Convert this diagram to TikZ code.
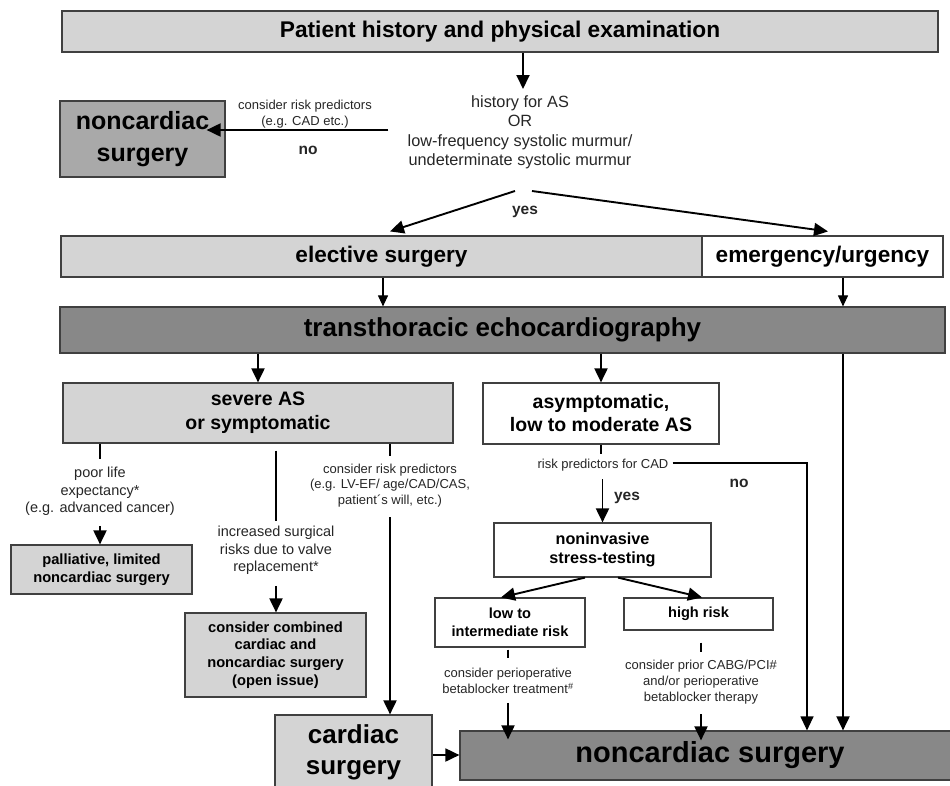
\documentclass[tikz,border=0pt]{standalone}
\usepackage{fontspec}
\setmainfont{Liberation Sans}
\usetikzlibrary{arrows.meta}

\definecolor{boxlight}{HTML}{D4D4D4}
\definecolor{boxmid}{HTML}{A9A9A9}
\definecolor{boxdark}{HTML}{888888}

\newcommand{\fs}[2]{\fontsize{#1}{#2}\selectfont}

\begin{document}
\begin{tikzpicture}[x=1pt,y=-1pt,
    box/.style={draw=black!75,line width=1.2pt,inner sep=0pt,align=center},
    arr/.style={line width=1.9pt,-{Triangle[length=14pt,width=13pt]}},
    tarr/.style={line width=1.1pt,-{Triangle[length=11pt,width=10pt]}},
    tick/.style={line width=1.9pt},
    lbl/.style={align=center,inner sep=0pt,text=black!85}]
        \useasboundingbox (0,0) rectangle (950,785);

        % Top part
        \node[box,fill=boxlight,minimum width=876pt,minimum height=41pt,font=\fs{22.7}{26}\bfseries] (hist) at (500,31.5) {Patient history and physical examination};
        \node[lbl,font=\fs{16.3}{19.5}] (q) at (520,132.5) {history for AS\\OR\\low-frequency systolic murmur/\\undeterminate systolic murmur};
        \node[box,fill=boxmid,minimum width=165pt,minimum height=76pt,font=\fs{25}{32}\bfseries] (nctop) at (142.5,139) {noncardiac\\surgery};
        \draw[arr] (hist.south -| 523,0) -- (523,89);
        \draw[arr] ([xshift=-19pt,yshift=2.5pt]q.west) -- ([xshift=-19pt,yshift=2.5pt]q.west -| nctop.east);
        \node[lbl,font=\fs{13}{16}] (lnorisk) at (305,114) {consider risk predictors\\(e.g. CAD etc.)};
        \node[lbl,font=\fs{15.5}{18}\bfseries] (lno) at (308,150) {no};

        % Elective / emergency
        \node[box,fill=boxlight,minimum width=641pt,minimum height=41pt,font=\fs{22.6}{26}\bfseries] (elec) at (381.5,256.5) {elective surgery};
        \node[box,fill=white,minimum width=241pt,minimum height=41pt,font=\fs{22.6}{26}\bfseries] (emerg) at (822.5,256.5) {emergency/urgency};
        \coordinate (fork) at (523,191);
        \draw[arr] ([xshift=-8pt]fork) -- ([xshift=8.5pt,yshift=4pt]elec.north);
        \draw[arr] ([xshift=9pt]fork) -- ([xshift=5.5pt,yshift=4pt]emerg.north);
        \node[lbl,font=\fs{15.5}{18}\bfseries] (lyes) at (525,212) {yes};

        % Echocardiography
        \node[box,fill=boxdark,minimum width=885pt,minimum height=46pt,font=\fs{26}{30}\bfseries] (tte) at (502.5,330) {transthoracic echocardiography};
        \draw[tarr] ([xshift=1.5pt]elec.south) -- ([xshift=1.5pt]elec.south |- tte.north);
        \draw[tarr] ([xshift=20.5pt]emerg.south) -- ([xshift=20.5pt]emerg.south |- tte.north);

        \node[box,fill=boxlight,minimum width=390pt,minimum height=60pt,font=\fs{19.5}{24}\bfseries] (severe) at (258,413) {severe AS\\or symptomatic};
        \node[box,fill=white,minimum width=236pt,minimum height=61pt,font=\fs{19.5}{23}\bfseries] (asym) at (601,413.5) {asymptomatic,\\low to moderate AS};
        \draw[arr] (severe.north |- tte.south) -- (severe.north);
        \draw[arr] (asym.north |- tte.south) -- (asym.north);

        % Bottom
        \node[box,fill=boxlight,minimum width=157pt,minimum height=74pt,font=\fs{26}{31}\bfseries] (card) at (353.5,752) {cardiac\\surgery};
        \node[box,fill=boxdark,minimum width=500pt,minimum height=49pt,font=\fs{29}{32}\bfseries] (ncbot) at (710,755.5) {noncardiac surgery};
        \draw[arr] ([yshift=-3pt]card.east) -- ([yshift=-3pt]card.east -| ncbot.west);
        \draw[arr] ([xshift=20.5pt]emerg.south |- tte.south) -- ([xshift=20.5pt]emerg.south |- ncbot.north);

        % Severe AS branches
        \node[lbl,font=\fs{14.5}{17.5}] (lpoor) at (100,491.5) {poor life\\expectancy*\\(e.g. advanced cancer)};
        \node[box,fill=boxlight,minimum width=181pt,minimum height=49pt,font=\fs{14.7}{18}\bfseries] (pall) at (101.5,569.5) {palliative, limited\\noncardiac surgery};
        \draw[tick] (severe.south -| lpoor) -- ++(0,15);
        \draw[arr] ([yshift=-10pt]lpoor.south) -- (lpoor.south |- pall.north);

        \node[lbl,font=\fs{14.5}{17.5}] (lincr) at (276,550.5) {increased surgical\\risks due to valve\\replacement*};
        \node[box,fill=boxlight,minimum width=181pt,minimum height=84pt,font=\fs{14.7}{17.7}\bfseries] (comb) at (275.5,655) {consider combined\\cardiac and\\noncardiac surgery\\(open issue)};
        \draw[tick] ([yshift=-7pt]severe.south -| lincr) -- ([yshift=5pt]lincr.north);
        \draw[arr] ([yshift=-11pt]lincr.south) -- (lincr.south |- comb.north);

        \node[lbl,font=\fs{13}{15.5}] (lcons) at (390,485.5) {consider risk predictors\\(e.g. LV-EF/ age/CAD/CAS,\\patient´s will, etc.)};
        \draw[tick] (severe.south -| lcons) -- ++(0,12);
        \draw[arr] ([yshift=-10pt]lcons.south) -- (lcons.south |- card.north);

        % Asymptomatic branches
        \node[lbl,font=\fs{13}{16}] (lrisk) at (603,465) {risk predictors for CAD};
        \draw[tick] (asym.south) -- ++(0,9);
        \draw[arr,line width=1.2pt] ([xshift=4pt,yshift=2pt]lrisk.east) -| ([xshift=97pt]ncbot.north);
        \node[lbl,font=\fs{15.5}{18}\bfseries] (lno2) at (739,483) {no};

        \node[box,fill=white,minimum width=217pt,minimum height=54pt,font=\fs{16.2}{19.5}\bfseries] (nonin) at (602.5,550) {noninvasive\\stress-testing};
        \draw[arr] ([yshift=43pt]nonin.north) -- (nonin.north);
        \node[lbl,font=\fs{15.5}{18}\bfseries] (lyes2) at (627,498) {yes};

        \node[box,fill=white,minimum width=150pt,minimum height=49pt,font=\fs{14.6}{17.5}\bfseries] (lowrisk) at (510,622.5) {low to\\intermediate risk};
        \node[box,fill=white,minimum width=149pt,minimum height=32pt,font=\fs{14.6}{17.5}\bfseries] (high) at (698.5,614) {high risk};
        \draw[arr] ([xshift=-17.5pt]nonin.south) -- ([xshift=-9pt]lowrisk.north);
        \draw[arr] ([xshift=15.5pt]nonin.south) -- ([xshift=3.5pt]high.north);

        \node[lbl,font=\fs{13}{16}] (lbeta) at (508,681) {consider perioperative\\betablocker treatment\textsuperscript{\#}};
        \draw[tick] ([xshift=-2pt,yshift=-2pt]lowrisk.south) -- ++(0,8);
        \draw[arr] ([yshift=-9pt]lbeta.south) -- ([yshift=-9pt]lbeta.south |- ncbot.north);

        \node[lbl,font=\fs{13}{16}] (lcabg) at (701,682) {consider prior CABG/PCI\#\\and/or perioperative\\betablocker therapy};
        \draw[tick] ([xshift=2.5pt,yshift=-12pt]high.south) -- ++(0,9);
        \draw[arr] ([yshift=-10pt]lcabg.south) -- ([yshift=-10pt]lcabg.south |- ncbot.north);
      \end{tikzpicture}
\end{document}
